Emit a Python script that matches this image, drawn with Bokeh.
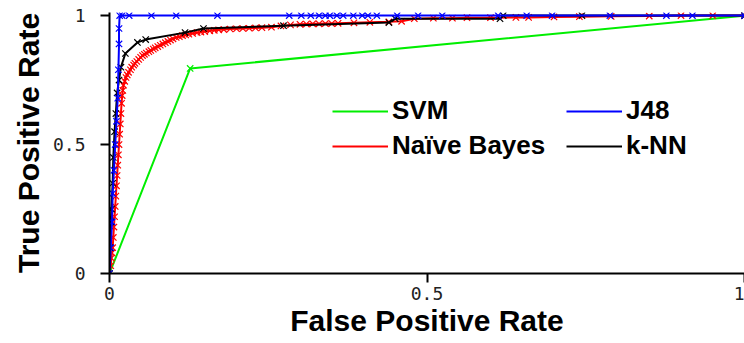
from bokeh.plotting import figure
from bokeh.models import Range1d, FixedTicker, Legend, LegendItem
from bokeh.embed import file_html
from bokeh.resources import INLINE

# ROC data (FPR, TPR)
svm_fpr = [0.0, 0.127, 1.0]
svm_tpr = [0.0, 0.795, 1.0]

nb_fpr = [0.0, 0.002, 0.003, 0.004, 0.005, 0.006, 0.007, 0.008, 0.009, 0.010, 0.011, 0.012,
          0.013, 0.014, 0.015, 0.016, 0.017, 0.018, 0.019, 0.020, 0.021, 0.022, 0.024, 0.026,
          0.028, 0.030, 0.033, 0.035, 0.038, 0.040, 0.043, 0.046, 0.049, 0.052, 0.055, 0.058,
          0.062, 0.065, 0.069, 0.072, 0.076, 0.080, 0.084, 0.088, 0.092, 0.096, 0.100, 0.105,
          0.110, 0.115, 0.120, 0.125, 0.131, 0.138, 0.144, 0.150, 0.158, 0.165, 0.172, 0.180,
          0.190, 0.200, 0.210, 0.220, 0.230, 0.240, 0.255, 0.270, 0.285, 0.300, 0.310, 0.320,
          0.330, 0.340, 0.350, 0.360, 0.385, 0.410, 0.440, 0.460, 0.480, 0.510, 0.540, 0.563,
          0.600, 0.640, 0.660, 0.700, 0.740, 0.790, 0.850, 0.900, 0.950, 1.0]
nb_tpr = [0.0, 0.03, 0.06, 0.08, 0.10, 0.14, 0.18, 0.22, 0.26, 0.30, 0.34, 0.38,
          0.42, 0.46, 0.50, 0.54, 0.58, 0.62, 0.66, 0.69, 0.71, 0.73, 0.745, 0.76,
          0.77, 0.78, 0.79, 0.80, 0.808, 0.815, 0.822, 0.83, 0.838, 0.845, 0.85, 0.855,
          0.86, 0.865, 0.87, 0.875, 0.88, 0.885, 0.89, 0.895, 0.90, 0.905, 0.91, 0.915,
          0.918, 0.922, 0.925, 0.928, 0.931, 0.934, 0.936, 0.938, 0.941, 0.943, 0.945, 0.946,
          0.948, 0.949, 0.950, 0.951, 0.952, 0.953, 0.955, 0.960, 0.964, 0.966, 0.967, 0.968,
          0.968, 0.969, 0.969, 0.970, 0.972, 0.974, 0.976, 0.978, 0.988, 0.990, 0.990, 0.992,
          0.992, 0.993, 0.993, 0.995, 0.996, 0.997, 0.998, 1.0, 1.0, 1.0]

knn_fpr = [0.0, 0.001, 0.002, 0.003, 0.005, 0.006, 0.008, 0.010, 0.012, 0.015, 0.018, 0.025,
           0.044, 0.057, 0.119, 0.148, 0.274, 0.440, 0.450, 0.615, 0.620, 0.744, 1.0]
knn_tpr = [0.0, 0.10, 0.20, 0.25, 0.35, 0.45, 0.55, 0.62, 0.70, 0.75, 0.80, 0.853,
           0.896, 0.907, 0.934, 0.950, 0.961, 0.973, 0.988, 0.988, 1.0, 1.0, 1.0]

j48_fpr = [0.0, 0.002, 0.004, 0.005, 0.007, 0.009, 0.011, 0.013, 0.014, 0.015, 0.015, 0.016,
           0.020, 0.031, 0.066, 0.105, 0.170, 0.283, 0.302, 0.317, 0.330, 0.340, 0.347, 0.358,
           0.368, 0.384, 0.398, 0.407, 0.421, 0.453, 0.486, 0.524, 0.612, 0.657, 0.697, 0.788,
           0.877, 0.918, 1.0]
j48_tpr = [0.0, 0.10, 0.20, 0.31, 0.40, 0.50, 0.59, 0.68, 0.79, 0.89, 0.95, 1.0,
           1.0, 1.0, 1.0, 1.0, 1.0, 1.0, 1.0, 1.0, 1.0, 1.0, 1.0, 1.0,
           1.0, 1.0, 1.0, 1.0, 1.0, 1.0, 1.0, 1.0, 1.0, 1.0, 1.0, 1.0,
           1.0, 1.0, 1.0]

tick_values = [0, 0.5, 1]
tick_labels = {0: "0", 0.5: "0.5", 1: "1"}

p = figure(width=744, height=343, output_backend="svg", toolbar_location=None,
           x_range=Range1d(0, 1.0), y_range=Range1d(0, 1.012))
p.min_border_left = 109
p.min_border_right = 0
p.min_border_top = 12
p.min_border_bottom = 70
p.outline_line_color = None
p.xgrid.visible = False
p.ygrid.visible = False
p.background_fill_color = "white"
p.border_fill_color = "white"

for ax in (p.xaxis[0], p.yaxis[0]):
    ax.ticker = FixedTicker(ticks=tick_values)
    ax.major_label_overrides = tick_labels
    ax.minor_tick_line_color = None
    ax.major_tick_in = 0
    ax.major_tick_out = 9
    ax.major_tick_line_width = 2
    ax.axis_line_width = 2
    ax.axis_line_color = "black"
    ax.major_tick_line_color = "black"
    ax.major_label_text_font = "DejaVu Sans Mono"
    ax.major_label_text_font_size = "18px"
    ax.major_label_text_color = "#222222"
    ax.axis_label_text_font = "Liberation Sans"
    ax.axis_label_text_font_style = "bold"
    ax.axis_label_text_font_size = "30px"
    ax.axis_label_text_color = "black"

p.xaxis.axis_label = "False Positive Rate"
p.yaxis.axis_label = "True Positive Rate"
p.xaxis.major_label_standoff = 4
p.xaxis.axis_label_standoff = 1
p.yaxis.major_label_standoff = 15
p.yaxis.axis_label_standoff = 5

series = [
    ("SVM", svm_fpr, svm_tpr, "#00ee00"),
    ("Naïve Bayes", nb_fpr, nb_tpr, "#ff0000"),
    ("k-NN", knn_fpr, knn_tpr, "#000000"),
    ("J48", j48_fpr, j48_tpr, "#0000ff"),
]
lines = {}
for name, xs, ys, col in series:
    r = p.line(xs, ys, line_color=col, line_width=2)
    p.scatter(xs, ys, marker="x", size=9, line_color=col, line_width=1.2)
    lines[name] = r

legend = Legend(items=[
    LegendItem(label="SVM", renderers=[lines["SVM"]]),
    LegendItem(label="J48", renderers=[lines["J48"]]),
    LegendItem(label="Naïve Bayes", renderers=[lines["Naïve Bayes"]]),
    LegendItem(label="k-NN", renderers=[lines["k-NN"]]),
], location=(223, 112), orientation="horizontal", ncols=2)
legend.label_text_font = "Liberation Sans"
legend.label_text_font_style = "bold"
legend.label_text_font_size = "26px"
legend.label_text_color = "black"
legend.glyph_width = 56
legend.glyph_height = 30
legend.label_height = 30
legend.label_width = 170
legend.label_standoff = 4
legend.spacing = 4
legend.padding = 0
legend.margin = 0
legend.border_line_color = None
legend.background_fill_alpha = 0
p.add_layout(legend)

open("out.html", "w").write(file_html(p, INLINE))
